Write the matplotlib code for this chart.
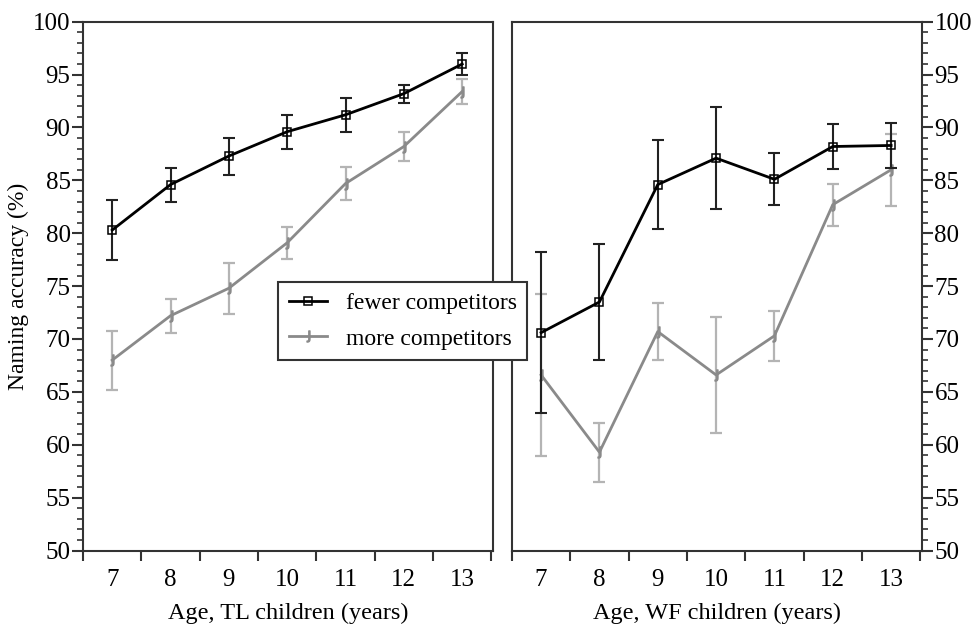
import matplotlib.pyplot as plt
from matplotlib.ticker import MultipleLocator, FixedLocator

plt.rcParams['font.family'] = ['Liberation Serif', 'DejaVu Serif']

ages = [7, 8, 9, 10, 11, 12, 13]

# TL children
tl_fewer = [80.3, 84.6, 87.3, 89.6, 91.2, 93.2, 96.0]
tl_fewer_err = [2.8, 1.6, 1.75, 1.6, 1.6, 0.85, 1.0]
tl_more = [68.0, 72.2, 74.8, 79.1, 84.7, 88.2, 93.4]
tl_more_err = [2.8, 1.6, 2.4, 1.5, 1.6, 1.4, 1.2]

# WF children
wf_fewer = [70.6, 73.5, 84.6, 87.1, 85.1, 88.2, 88.3]
wf_fewer_err = [7.6, 5.5, 4.2, 4.8, 2.45, 2.1, 2.1]
wf_more = [66.6, 59.3, 70.7, 66.6, 70.3, 82.7, 86.0]
wf_more_err = [7.7, 2.8, 2.7, 5.5, 2.35, 2.0, 3.4]

xlabels = ["Age, TL children (years)", "Age, WF children (years)"]

BLACK = "#000000"
GREY = "#8a8a8a"
GREY_ERR = "#b4b4b4"
SPINE = "#333333"

fig = plt.figure(figsize=(9.77, 6.26), dpi=100)
ax1 = fig.add_axes([0.085, 0.1206, 0.4197, 0.8447])
ax2 = fig.add_axes([0.524, 0.1206, 0.4197, 0.8447])

series = [(ax1, tl_fewer, tl_fewer_err, tl_more, tl_more_err),
          (ax2, wf_fewer, wf_fewer_err, wf_more, wf_more_err)]

handles = []
for ax, fewer, fewer_err, more, more_err in series:
    ax.errorbar(ages, more, yerr=more_err, fmt="none", ecolor=GREY_ERR,
                elinewidth=1.6, capsize=4.5, capthick=1.6, zorder=2)
    h2, = ax.plot(ages, more, color=GREY, lw=2, marker=r"$\mathsf{J}$",
                  ms=8, mec=GREY, zorder=3)
    ax.errorbar(ages, fewer, yerr=fewer_err, fmt="none", ecolor="#222222",
                elinewidth=1.5, capsize=4.5, capthick=1.5, zorder=4)
    h1, = ax.plot(ages, fewer, color=BLACK, lw=2, marker="s", ms=6,
                  mfc="none", mec=BLACK, mew=1.1, zorder=5)
    handles = [h1, h2]

    ax.set_xlim(6.5, 13.53)
    ax.set_ylim(50, 100)
    ax.xaxis.set_major_locator(FixedLocator(ages))
    ax.xaxis.set_minor_locator(FixedLocator([a - 0.5 for a in ages] + [13.5]))
    ax.tick_params(axis="x", which="major", length=0, labelsize=18, pad=13)
    ax.tick_params(axis="x", which="minor", length=7, width=1.5, color=SPINE)
    ax.yaxis.set_major_locator(MultipleLocator(5))
    ax.yaxis.set_minor_locator(MultipleLocator(1))
    ax.tick_params(axis="y", which="major", length=8, width=1.5, color=SPINE,
                   labelsize=18, pad=1)
    ax.tick_params(axis="y", which="minor", length=4, width=1.2, color=SPINE)
    for s in ax.spines.values():
        s.set_color(SPINE)
        s.set_linewidth(1.5)

for ax, lab in zip([ax1, ax2], xlabels):
    ax.set_xlabel(lab, fontsize=17.5, labelpad=9)

ax1.set_ylabel("Naming accuracy (%)", fontsize=17, labelpad=3)
ax2.yaxis.tick_right()
ax2.tick_params(axis="y", which="both", left=False, right=True)

leg = fig.legend(handles, ["fewer competitors", "more competitors"],
                 loc="upper left", bbox_to_anchor=(0.2849, 0.55),
                 borderaxespad=0, fontsize=17, frameon=True, fancybox=False,
                 handlelength=1.6, borderpad=0.45, labelspacing=0.6,
                 handletextpad=0.8)
leg.get_frame().set_edgecolor(SPINE)
leg.get_frame().set_linewidth(1.5)
leg.get_frame().set_alpha(1)

fig.savefig("out.png", dpi=100)
